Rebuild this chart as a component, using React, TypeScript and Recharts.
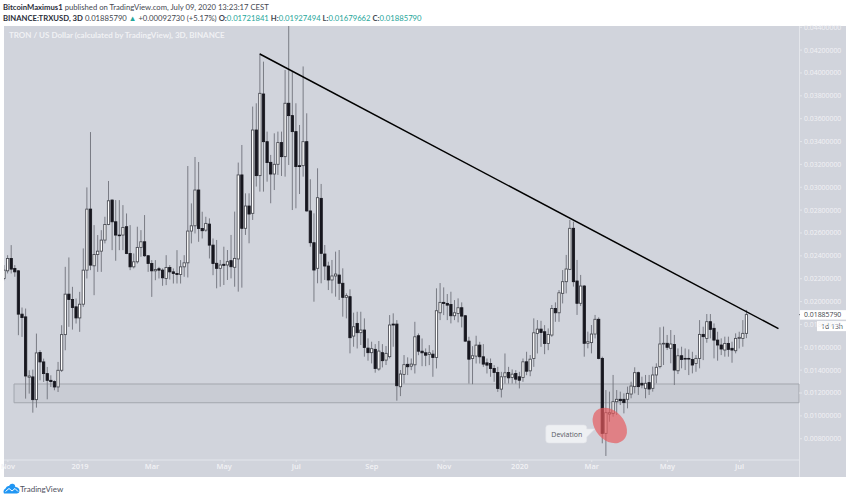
import React from 'react';
import { ComposedChart, Bar, XAxis, YAxis, ReferenceArea, ReferenceLine, ReferenceDot } from 'recharts';

const highs = [
  .02319,.02406,.02494,.02319,.02275,.01948,.01939,.01399,.01405,.01720,
  .01574,.01501,.01428,.01355,.01311,.01472,.01793,.02304,.02386,.02129,
  .02027,.02085,.02465,.02999,.03483,.02669,.02582,.02625,.02742,.03055,
  .02894,.02888,.02888,.02844,.02771,.02669,.02421,.02655,.02625,.02757,
  .02406,.02363,.02363,.02304,.02290,.02406,.02319,.02290,.02450,.02363,
  .02406,.03186,.02859,.03265,.03221,.02786,.02742,.02728,.02552,.02539,
  .02364,.02480,.02451,.02583,.02787,.03216,.03370,.02947,.02947,.03706,
  .03735,.04172,.04099,.03487,.03283,.03472,.03487,.03487,.04026,.04500,
  .04012,.03735,.03545,.04057,.03647,.03070,.02772,.03166,.03029,.02495,
  .02349,.02364,.02437,.02451,.02291,.02072,.02107,.01903,.01911,.01911,
  .01853,.01678,.01649,.01628,.01655,.01628,.01611,.01882,.01897,.01838,
  .01401,.01532,.01512,.01502,.01823,.01721,.01677,.01590,.01619,.01575,
  .02116,.02162,.02124,.02066,.02086,.02013,.02028,.01993,.01882,.01692,
  .01610,.01701,.01648,.01628,.01502,.01502,.01444,.01429,.01385,.01546,
  .01429,.01406,.01400,.01385,.01502,.01561,.01532,.01853,.01838,.01832,
  .01794,.01765,.01970,.01993,.02101,.02276,.02408,.02714,.02699,.02364,
  .02233,.02145,.01737,.01795,.01883,.01862,.01518,.01226,.01212,.01358,
  .01226,.01212,.01197,.01256,.01299,.01425,.01387,.01343,.01358,.01358,
  .01431,.01460,.01775,.01781,.01708,.01751,.01708,.01590,.01605,.01590,
  .01582,.01561,.01532,.01838,.01780,.01891,.01891,.01809,.01736,.01678,
  .01693,.01693,.01649,.01722,.01736,.01838,.01927,
];
const lows = [
  .02187,.02246,.02246,.02217,.01706,.01691,.01151,.01195,.01028,.01072,
  .01311,.01297,.01145,.01253,.01224,.01209,.01384,.01574,.01779,.01755,
  .01808,.01735,.01954,.02202,.02275,.02056,.02260,.02260,.02509,.02669,
  .02450,.02357,.02450,.02450,.02415,.02275,.02290,.02333,.02392,.02392,
  .02260,.02041,.02187,.02202,.02138,.02144,.02193,.02158,.02158,.02158,
  .02217,.02211,.02509,.02596,.02523,.02552,.02611,.02377,.02231,.02116,
  .02130,.02145,.02189,.02203,.02130,.02087,.02122,.02583,.02510,.02714,
  .03006,.02962,.02962,.03049,.02860,.02976,.03108,.03099,.03093,.03195,
  .02801,.02816,.02941,.03093,.02787,.02480,.01999,.02160,.02160,.02189,
  .02101,.02072,.02043,.02014,.01868,.01853,.01547,.01605,.01590,.01620,
  .01518,.01483,.01459,.01378,.01395,.01424,.01445,.01503,.01605,.01133,
  .01173,.01284,.01357,.01400,.01371,.01531,.01435,.01435,.01444,.01342,
  .01415,.01838,.01882,.01838,.01809,.01838,.01818,.01774,.01648,.01283,
  .01277,.01458,.01458,.01429,.01371,.01342,.01298,.01210,.01161,.01283,
  .01283,.01283,.01283,.01240,.01298,.01356,.01347,.01429,.01546,.01604,
  .01540,.01575,.01692,.01823,.01823,.01984,.02072,.02276,.02131,.01883,
  .01961,.01518,.01591,.01547,.01678,.01495,.00760,.00649,.00949,.00993,
  .01008,.01095,.01022,.01066,.01154,.01197,.01183,.01241,.01154,.01183,
  .01212,.01285,.01416,.01445,.01576,.01460,.01270,.01366,.01416,.01401,
  .01357,.01372,.01386,.01416,.01488,.01640,.01678,.01503,.01483,.01532,
  .01518,.01518,.01465,.01547,.01590,.01605,.01680,
];
const opens = [
  .02202,.02269,.02377,.02290,.02269,.01890,.01866,.01338,.01341,.01142,
  .01554,.01472,.01370,.01311,.01300,.01253,.01399,.01711,.02065,.02018,
  .01954,.01857,.01977,.02275,.02809,.02313,.02412,.02441,.02538,.02675,
  .02888,.02698,.02582,.02582,.02655,.02421,.02304,.02348,.02474,.02523,
  .02401,.02333,.02269,.02287,.02275,.02202,.02298,.02260,.02246,.02237,
  .02304,.02339,.02617,.02663,.02976,.02640,.02625,.02678,.02494,.02335,
  .02291,.02326,.02320,.02358,.02300,.02373,.03108,.02641,.02836,.02772,
  .03501,.03102,.03816,.03399,.03218,.03116,.03201,.03391,.03268,.03735,
  .03627,.03487,.03189,.03189,.03399,.02793,.02515,.02291,.02903,.02416,
  .02311,.02189,.02224,.02232,.02160,.02037,.02043,.01698,.01809,.01728,
  .01751,.01593,.01553,.01582,.01410,.01553,.01488,.01518,.01803,.01803,
  .01255,.01363,.01451,.01435,.01447,.01701,.01566,.01552,.01537,.01540,
  .01511,.01902,.01993,.01984,.01975,.01876,.01896,.01946,.01876,.01654,
  .01502,.01523,.01619,.01517,.01464,.01458,.01415,.01380,.01234,.01342,
  .01380,.01336,.01371,.01342,.01336,.01473,.01394,.01502,.01721,.01759,
  .01736,.01634,.01707,.01940,.01902,.02072,.02174,.02282,.02641,.02180,
  .01985,.02136,.01635,.01641,.01716,.01845,.01503,.00847,.01016,.01022,
  .01124,.01145,.01145,.01145,.01191,.01256,.01378,.01285,.01241,.01291,
  .01241,.01358,.01431,.01629,.01635,.01591,.01625,.01395,.01526,.01503,
  .01503,.01494,.01459,.01503,.01713,.01678,.01824,.01766,.01663,.01620,
  .01576,.01634,.01591,.01570,.01678,.01678,.01722,
];
const closes = [
  .02275,.02377,.02284,.02260,.01890,.01860,.01349,.01349,.01142,.01551,
  .01472,.01370,.01311,.01300,.01253,.01399,.01711,.02065,.02018,.01948,
  .01857,.01977,.02275,.02809,.02319,.02412,.02441,.02538,.02675,.02882,
  .02698,.02582,.02576,.02649,.02421,.02304,.02348,.02474,.02523,.02401,
  .02333,.02269,.02281,.02275,.02208,.02298,.02260,.02246,.02237,.02304,
  .02339,.02617,.02663,.02976,.02640,.02620,.02684,.02494,.02333,.02291,
  .02320,.02317,.02349,.02305,.02378,.03108,.02641,.02836,.02766,.03501,
  .03102,.03822,.03399,.03216,.03116,.03201,.03391,.03268,.03735,.03627,
  .03487,.03181,.03181,.03399,.02793,.02515,.02276,.02909,.02422,.02311,
  .02189,.02224,.02241,.02160,.02037,.02052,.01684,.01780,.01728,.01751,
  .01599,.01553,.01588,.01415,.01567,.01483,.01547,.01795,.01795,.01264,
  .01366,.01448,.01430,.01453,.01692,.01566,.01552,.01531,.01552,.01511,
  .01920,.01993,.01984,.01969,.01876,.01902,.01946,.01873,.01654,.01496,
  .01526,.01619,.01517,.01453,.01444,.01415,.01380,.01240,.01342,.01377,
  .01333,.01365,.01321,.01312,.01473,.01391,.01496,.01727,.01759,.01730,
  .01634,.01712,.01940,.01902,.02077,.02174,.02285,.02641,.02174,.01985,
  .02136,.01635,.01649,.01716,.01845,.01503,.00847,.01028,.01028,.01124,
  .01145,.01133,.01116,.01197,.01261,.01378,.01256,.01270,.01285,.01235,
  .01358,.01425,.01629,.01635,.01600,.01629,.01401,.01526,.01494,.01497,
  .01497,.01445,.01503,.01713,.01693,.01824,.01757,.01663,.01620,.01585,
  .01634,.01582,.01576,.01678,.01687,.01722,.01886,
];

const timeTicks = [2, 22, 42, 62, 82, 103, 123, 144, 164, 185, 205];
const timeLabels = ['Nov', '2019', 'Mar', 'May', 'Jul', 'Sep', 'Nov', '2020', 'Mar', 'May', 'Jul'];
const priceTicks = [
  0.008, 0.010, 0.012, 0.014, 0.016, 0.018, 0.020, 0.022, 0.024, 0.026,
  0.028, 0.030, 0.032, 0.034, 0.036, 0.038, 0.040, 0.042, 0.044,
];

const lastPrice = 0.0188579;
const trendLine = [{ x: 71.9, y: 0.04166 }, { x: 215.8, y: 0.01763 }];
const zoneTop = 0.01279;
const zoneBottom = 0.01115;
const zoneStart = 3.7;
const ellipseAt = { x: 169, y: 0.00916 };
const xDomain = [0.92, 221.5];
const yDomain = [0.00614, 0.04411];

const candles = highs.map((high, i) => ({
  index: i + 1,
  open: opens[i],
  close: closes[i],
  high,
  low: lows[i],
}));

const FONT = '"Open Sans", sans-serif';
const HEADER_FONT = 'Lato, sans-serif';
const AXIS_TEXT = '#f1f2f5';
const AXIS_LINE = '#e4e6eb';
const TEAL = '#26a69a';

function Candle(props: any) {
  const { x, y, width, height, payload } = props;
  const { open, close, high, low } = payload;
  const pxPerPrice = height / (high - low);
  const bodyTop = y + (high - Math.max(open, close)) * pxPerPrice;
  const bodyHeight = Math.max(Math.abs(open - close) * pxPerPrice, 0.6);
  const cx = x + width / 2;
  const up = close >= open;
  return (
    <g>
      <line x1={cx} x2={cx} y1={y} y2={y + height} stroke="#6f727b" strokeWidth={0.9} />
      <rect
        x={cx - 1.15}
        y={bodyTop}
        width={2.3}
        height={bodyHeight}
        fill={up ? '#ffffff' : '#17171f'}
        stroke={up ? '#45474f' : '#17171f'}
        strokeWidth={0.85}
      />
    </g>
  );
}

function RedEllipse(props: any) {
  const { cx, cy } = props;
  return (
    <ellipse
      cx={cx}
      cy={cy}
      rx={20}
      ry={14.5}
      transform={`rotate(48 ${cx} ${cy})`}
      fill="#e8585c"
      fillOpacity={0.68}
    />
  );
}

function DeviationNote(props: any) {
  const { cx, cy } = props;
  const left = cx - 64;
  const top = cy - 0.5;
  return (
    <g>
      <path
        d={`M${left + 3} ${top} H${left + 38} Q${left + 41} ${top} ${left + 41} ${top + 3} V${top + 4}
          L${left + 49} ${top + 4} L${left + 41} ${top + 12} V${top + 15} Q${left + 41} ${top + 18} ${left + 38} ${top + 18}
          H${left + 3} Q${left} ${top + 18} ${left} ${top + 15} V${top + 3} Q${left} ${top} ${left + 3} ${top}Z`}
        fill="#eef0f3"
        stroke="#e0e2e7"
        strokeWidth={0.6}
      />
      <text x={left + 21} y={top + 11.8} textAnchor="middle" fontFamily={FONT} fontSize={7} fill="#555862">
        Deviation
      </text>
    </g>
  );
}

function PriceTag(props: any) {
  const { cx, cy } = props;
  return (
    <g>
      <line x1={cx} x2={cx + 3} y1={cy} y2={cy} stroke="#55585f" strokeWidth={0.8} />
      <rect x={cx + 1} y={cy - 4.5} width={46} height={9.5} fill="#ffffff" />
      <text x={cx + 5} y={cy + 2.6} fontFamily={FONT} fontSize={6.9} fill="#3c3f48">
        {lastPrice.toFixed(8)}
      </text>
      <rect x={cx + 18} y={cy + 6.5} width={29} height={10} fill="#ffffff" />
      <text x={cx + 22} y={cy + 14.2} fontFamily={FONT} fontSize={6.9} fill="#3c3f48">
        1d 13h
      </text>
    </g>
  );
}

function Header() {
  const num = { color: TEAL };
  return (
    <div style={{ position: 'absolute', left: 3, top: 2, fontFamily: HEADER_FONT, fontSize: 7.7, lineHeight: '11px', color: '#444750', whiteSpace: 'nowrap' }}>
      <div>
        <b style={{ color: '#2a2e39' }}>BitcoinMaximus1</b> published on TradingView.com, July 09, 2020 13:23:17 CEST
      </div>
      <div>
        <b style={{ color: '#2a2e39' }}>BINANCE:TRXUSD, 3D</b> 0.01885790 <span style={num}>▲</span> +0.00092730 (+5.17%){' '}
        <b>O:</b><span style={num}>0.01721841</span> <b>H:</b><span style={num}>0.01927494</span>{' '}
        <b>L:</b><span style={num}>0.01679662</span> <b>C:</b><span style={num}>0.01885790</span>
      </div>
    </div>
  );
}

function Logo() {
  return (
    <div style={{ position: 'absolute', left: 3, top: 483, display: 'flex', alignItems: 'center', fontFamily: HEADER_FONT, fontSize: 8, color: '#50535e' }}>
      <svg width={17} height={11} viewBox="0 0 17 11">
        <path d="M1 10.5 Q-0.5 7 2.5 5.5 Q3.5 2.5 6 3 Q7.5 0 10 0.8 Q12.5 1.5 12.3 4 Q16 4 16.5 7.5 Q16.8 10.5 14 10.5Z" fill="#2196f3" />
        <path d="M2.5 8.5 L6 5.5 L9 8 L12 5.5 L15 8.5" fill="none" stroke="#ffffff" strokeWidth={1} />
      </svg>
      <span style={{ marginLeft: 0 }}>TradingView</span>
    </div>
  );
}

export default function App() {
  return (
    <div style={{ position: 'absolute', left: 0, top: 0, width: 850, height: 499, background: '#ffffff', overflow: 'hidden' }}>
      <div style={{ position: 'absolute', left: 4, top: 26, width: 842, height: 451, background: '#d1d4dc' }} />
      <Header />
      <div style={{ position: 'absolute', left: 9, top: 30, fontFamily: HEADER_FONT, fontSize: 8, fontWeight: 700, color: '#f0f1f4', whiteSpace: 'nowrap' }}>
        TRON / US Dollar (calculated by TradingView), 3D, BINANCE
      </div>
      <div style={{ position: 'absolute', left: 799, top: 26, width: 1.4, height: 451, background: AXIS_LINE }} />
      <Logo />
      <div style={{ position: 'absolute', left: 0, top: 0 }}>
        <ComposedChart width={850} height={499} data={candles} margin={{ top: 26, right: 0, bottom: 0, left: 4 }}>
          <XAxis
            dataKey="index"
            type="number"
            domain={xDomain}
            allowDataOverflow
            ticks={timeTicks}
            interval={0}
            height={39}
            tickFormatter={(v: number) => timeLabels[timeTicks.indexOf(v)]}
            tick={{ fill: AXIS_TEXT, fontSize: 7.5, fontFamily: FONT, fontWeight: 600 }}
            tickSize={2}
            tickLine={{ stroke: AXIS_LINE }}
            axisLine={{ stroke: AXIS_LINE, strokeWidth: 1.2 }}
          />
          <YAxis
            orientation="right"
            type="number"
            domain={yDomain}
            allowDataOverflow
            ticks={priceTicks}
            interval={0}
            width={51}
            tickFormatter={(v: number) => v.toFixed(8)}
            tick={{ fill: AXIS_TEXT, fontSize: 6.9, fontFamily: FONT }}
            tickSize={3}
            tickLine={{ stroke: AXIS_LINE }}
            axisLine={false}
          />
          <ReferenceArea
            x1={zoneStart}
            x2={xDomain[1]}
            y1={zoneBottom}
            y2={zoneTop}
            fill="#9598a1"
            fillOpacity={0.13}
            stroke="#a3a6ae"
            strokeWidth={1}
          />
          <Bar
            dataKey={(d: any) => [d.low, d.high]}
            barSize={3}
            shape={<Candle />}
            isAnimationActive={false}
          />
          <ReferenceLine segment={trendLine} stroke="#000000" strokeWidth={1.5} />
          <ReferenceDot x={ellipseAt.x} y={ellipseAt.y} shape={<RedEllipse />} />
          <ReferenceDot x={ellipseAt.x} y={ellipseAt.y} shape={<DeviationNote />} />
          <ReferenceDot x={xDomain[1]} y={lastPrice} ifOverflow="visible" shape={<PriceTag />} />
        </ComposedChart>
      </div>
    </div>
  );
}
